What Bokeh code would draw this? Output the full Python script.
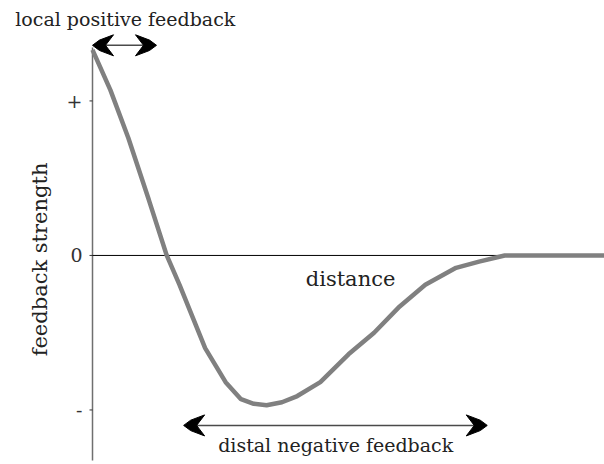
import math
from bokeh.plotting import figure
from bokeh.models import ColumnDataSource, Range1d
from bokeh.core.properties import value
from bokeh.embed import file_html
from bokeh.resources import INLINE

# Feedback kernel: strength as a function of distance
distance = [0, 0.35, 0.7, 1.1, 1.45, 1.7, 2.2, 2.6, 2.9, 3.15, 3.4, 3.7,
            4.0, 4.45, 5.0, 5.5, 6.0, 6.5, 7.1, 7.55, 8.05, 10]
strength = [1.33, 1.07, 0.76, 0.36, 0.0, -0.19, -0.60, -0.82, -0.93, -0.96,
            -0.97, -0.95, -0.91, -0.82, -0.64, -0.50, -0.33, -0.19, -0.08,
            -0.04, 0.0, 0.0]

tick_values = [1, 0, -1]
tick_labels = ["+", "0", "-"]

local_range = (0.0, 1.25)
distal_range = (1.78, 7.71)

SERIF = "DejaVu Serif"
INK = "#222222"

X_RANGE = (-1.797, 10)
Y_RANGE = (-1.353, 1.650)
W, H = 604, 464
# data units per pixel, used to size the arrowheads in pixels
DX = (X_RANGE[1] - X_RANGE[0]) / W
DY = (Y_RANGE[1] - Y_RANGE[0]) / H

# stealth arrowhead outline in px: (back from tip, off the shaft)
HEAD = [(0, 0), (7, 5.2), (21, 10.5), (13, 0), (21, -10.5), (7, -5.2)]

p = figure(width=W, height=H, output_backend="svg", toolbar_location=None,
           x_range=Range1d(*X_RANGE), y_range=Range1d(*Y_RANGE),
           min_border=0, x_axis_type=None, y_axis_type=None)
p.outline_line_color = None
p.grid.visible = False
p.background_fill_color = "white"
p.border_fill_color = "white"

# vertical strength axis with its three ticks
p.segment(x0=[0], y0=[-1.327], x1=[0], y1=[1.346],
          line_color="#6f6f6f", line_width=1.5)
p.segment(x0=[-3 * DX] * 3, y0=tick_values, x1=[0] * 3, y1=tick_values,
          line_color="#333333", line_width=1)
p.text(x=[-10 * DX] * 3, y=tick_values, text=tick_labels,
       text_font=value(SERIF), text_font_size="19px", text_color="#333333",
       text_align="right", text_baseline="middle")

# zero line
p.segment(x0=[0], y0=[0], x1=[10], y1=[0], line_color="black", line_width=1)

src = ColumnDataSource(data=dict(x=distance, y=strength))
p.line("x", "y", source=src, line_color="#808080", line_width=4.5)

p.text(x=[-1.016], y=[-0.026], text=["feedback strength"], angle=math.pi / 2,
       text_font=value(SERIF), text_font_size="21px", text_color=INK,
       text_align="center", text_baseline="middle")

p.text(x=[5.04], y=[-0.15], text=["distance"], text_font=value(SERIF),
       text_font_size="21px", text_color=INK,
       text_align="center", text_baseline="middle")


def double_arrow(x0, x1, y):
    """Two-headed arrow with filled stealth heads at both ends."""
    left_x = [x0 + u * DX for u, _ in HEAD]
    right_x = [x1 - u * DX for u, _ in HEAD]
    head_y = [y + v * DY for _, v in HEAD]
    p.segment(x0=[x0 + 12 * DX], y0=[y], x1=[x1 - 12 * DX], y1=[y],
              line_color="#4a4a4a", line_width=1.5)
    p.patches([left_x, right_x], [head_y, head_y],
              fill_color="black", line_color="black", line_width=1)


double_arrow(local_range[0], local_range[1], 1.36)
p.text(x=[0.64], y=[1.53], text=["local positive feedback"],
       text_font=value(SERIF), text_font_size="19px", text_color=INK,
       text_align="center", text_baseline="middle")

double_arrow(distal_range[0], distal_range[1], -1.10)
p.text(x=[4.75], y=[-1.23], text=["distal negative feedback"],
       text_font=value(SERIF), text_font_size="19px", text_color=INK,
       text_align="center", text_baseline="middle")

open("out.html", "w").write(file_html(p, INLINE))
